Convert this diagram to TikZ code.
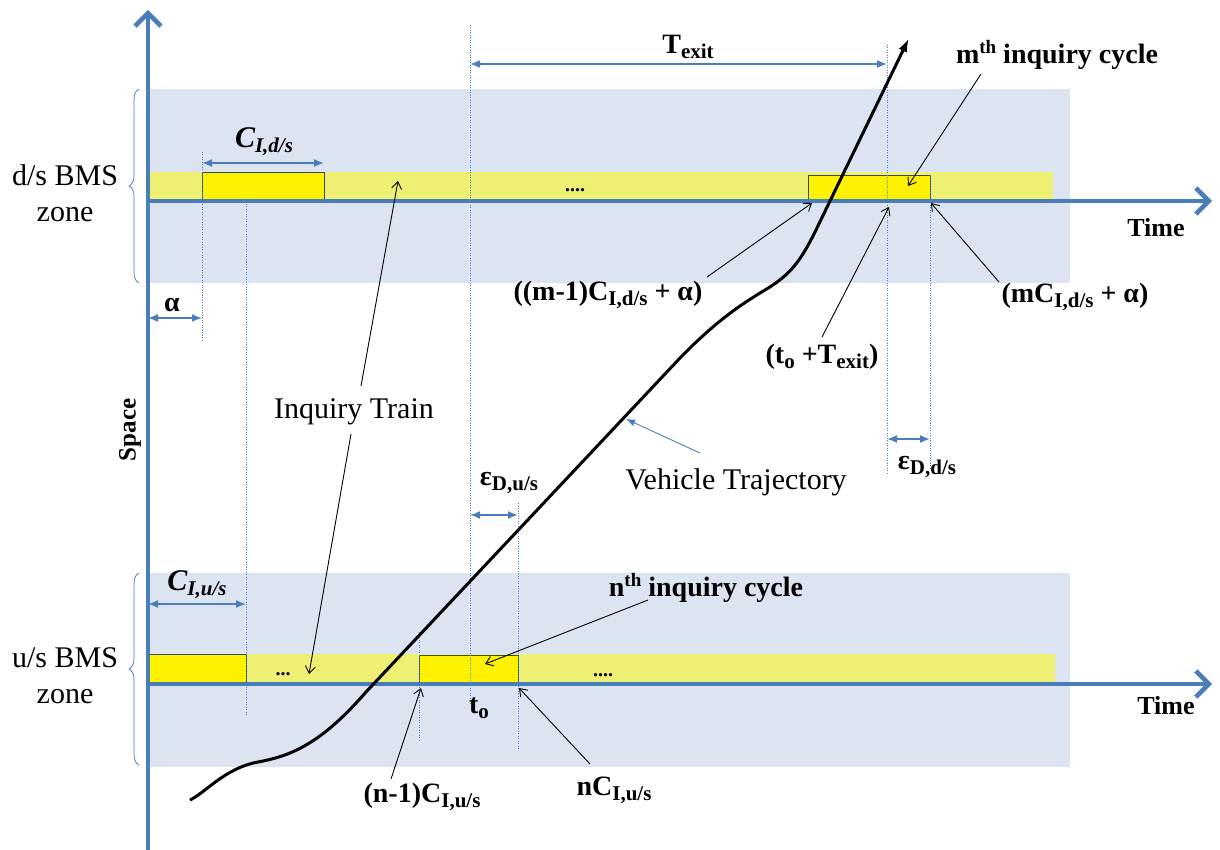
\documentclass[tikz,border=0pt]{standalone}
\usepackage{fontspec}
\setmainfont{Liberation Serif}
\usetikzlibrary{arrows.meta,decorations.pathreplacing}
\definecolor{axblue}{HTML}{4A7EBB}
\definecolor{zoneblue}{HTML}{DBE4F0}
\definecolor{bandyel}{HTML}{EEF074}
\definecolor{boxedge}{HTML}{34495E}
\newcommand\lsub[1]{\raisebox{-5pt}{\fontsize{21}{21}\selectfont #1}}
\newcommand\lsup[1]{\raisebox{10pt}{\fontsize{19}{19}\selectfont #1}}
\begin{document}
\begin{tikzpicture}[x=1pt,y=-1pt,
  zone/.style={fill=zoneblue,draw=none},
  band/.style={fill=bandyel,draw=none},
  cyclebox/.style={fill=yellow,draw=boxedge,line width=0.9pt},
  guide/.style={draw=axblue,line width=0.8pt,dash pattern=on 1pt off 1.5pt},
  axisline/.style={draw=axblue,line width=4.5pt,-{Straight Barb[length=13pt,width=26pt]}},
  dimarrow/.style={draw=axblue,line width=1.6pt,{Latex[length=10pt,width=8pt]}-{Latex[length=10pt,width=8pt]}},
  pointer/.style={draw=black,line width=0.9pt,-{Straight Barb[length=7pt,width=10pt]}},
  bluepointer/.style={draw=axblue,line width=0.9pt,-{Latex[length=9pt,width=7pt]}},
  traj/.style={draw=black,line width=3pt,-{Latex[length=14pt,width=9pt]}},
  zbrace/.style={draw=axblue,line width=0.8pt,decorate,decoration={brace,amplitude=10pt}},
  rlbl/.style={inner sep=0pt,font=\fontsize{30}{36}\selectfont},
  blbl/.style={inner sep=0pt,font=\fontsize{28}{32}\selectfont\bfseries},
  dots/.style={inner sep=0pt,font=\fontsize{20}{24}\selectfont\bfseries}
]
\useasboundingbox (0,0) rectangle (1220,850);
% zones
\fill[zone] (148,89) rectangle (1070,283);
\fill[zone] (148,573) rectangle (1070,767);
\fill[band] (148,172) rectangle (1053,200);
\fill[band] (148,654) rectangle (1055,682);
% cycle boxes
\draw[cyclebox] (202,172) rectangle (324,200);
\draw[cyclebox] (808,175) rectangle (930,200);
\draw[cyclebox] (148,654) rectangle (246,682);
\draw[cyclebox] (419,655) rectangle (518,682);
% guide lines
\coordinate (gA1) at (202,152); \coordinate (gA2) at (202,342);
\coordinate (gB1) at (246,204); \coordinate (gB2) at (246,716);
\coordinate (gT1) at (470,25);  \coordinate (gT2) at (470,705);
\coordinate (gN1) at (419,632); \coordinate (gN2) at (419,740);
\coordinate (gM1) at (518,503); \coordinate (gM2) at (518,750);
\coordinate (gE1) at (887,45);  \coordinate (gE2) at (887,475);
\coordinate (gF1) at (930,175); \coordinate (gF2) at (930,470);
\draw[guide] (gA1) -- (gA2);
\draw[guide] (gB1) -- (gB2);
\draw[guide] (gT1) -- (gT2);
\draw[guide] (gN1) -- (gN2);
\draw[guide] (gM1) -- (gM2);
\draw[guide] (gE1) -- (gE2);
\draw[guide] (gF1) -- (gF2);
% axes
\coordinate (o1) at (148,850); \coordinate (o2) at (148,10);
\coordinate (t1) at (146,201); \coordinate (t2) at (1212,201);
\coordinate (u1) at (146,684); \coordinate (u2) at (1212,684);
\draw[axisline] (o1) -- (o2);
\draw[axisline] (t1) -- (t2);
\draw[axisline] (u1) -- (u2);
% braces
\coordinate (bd1) at (139,283); \coordinate (bd2) at (139,89);
\coordinate (bu1) at (139,765); \coordinate (bu2) at (139,573);
\draw[zbrace] (bd1) -- (bd2);
\draw[zbrace] (bu1) -- (bu2);
% trajectory
\coordinate (v0) at (190,800);
\coordinate (v1) at (258,762);
\coordinate (v2) at (366,692);
\coordinate (v3) at (680,358);
\coordinate (v4) at (765,290);
\coordinate (v5) at (815,232);
\coordinate (v6) at (909,38);
\draw[traj] (v0) .. controls (205,793) and (225,768) .. (v1)
  .. controls (290,756) and (320,745) .. (v2)
  -- (v3)
  .. controls (715,322) and (740,305) .. (v4)
  .. controls (790,275) and (800,262) .. (v5)
  -- (v6);
% dimension arrows
\coordinate (dC1) at (202,163); \coordinate (dC2) at (324,163);
\coordinate (da1) at (148,318); \coordinate (da2) at (202,318);
\coordinate (dT1) at (470,64);  \coordinate (dT2) at (887,64);
\coordinate (dU1) at (148,604); \coordinate (dU2) at (246,604);
\coordinate (de1) at (470,515); \coordinate (de2) at (518,515);
\coordinate (df1) at (887,439); \coordinate (df2) at (930,439);
\draw[dimarrow] (dC1) -- (dC2);
\draw[dimarrow] (da1) -- (da2);
\draw[dimarrow] (dT1) -- (dT2);
\draw[dimarrow] (dU1) -- (dU2);
\draw[dimarrow] (de1) -- (de2);
\draw[dimarrow] (df1) -- (df2);
% labels
\node[rlbl,align=center] (dslbl) at (65,193) {d/s BMS\\zone};
\node[rlbl,align=center] (uslbl) at (65,676) {u/s BMS\\zone};
\node[rlbl,rotate=90,font=\fontsize{25}{30}\selectfont\bfseries] (space) at (130,430) {Space};
\node[blbl,font=\fontsize{26}{30}\selectfont\bfseries] (time1) at (1156,228) {Time};
\node[blbl,font=\fontsize{26}{30}\selectfont\bfseries] (time2) at (1166,706) {Time};
\node[blbl,font=\fontsize{30}{34}\selectfont\bfseries\itshape] (cid) at (264,142) {C\lsub{I,d/s}};
\node[blbl,font=\fontsize{30}{34}\selectfont\bfseries\itshape] (ciu) at (197,585) {C\lsub{I,u/s}};
\node[blbl] (alpha) at (172,305) {α};
\node[blbl] (texit) at (688,47) {T\lsub{exit}};
\node[blbl] (mth) at (1057,55) {m\lsup{th} inquiry cycle};
\node[blbl] (nth) at (706,588) {n\lsup{th} inquiry cycle};
\node[blbl] (mm1) at (608,295) {((m-1)C\lsub{I,d/s} + α)};
\node[blbl] (mc) at (1075,297) {(mC\lsub{I,d/s} + α)};
\node[blbl] (tot) at (822,357) {(t\lsub{o} +T\lsub{exit})};
\node[blbl] (epsu) at (509,483) {ε\lsub{D,u/s}};
\node[blbl] (epsd) at (927,467) {ε\lsub{D,d/s}};
\node[blbl] (to) at (479,708) {t\lsub{o}};
\node[blbl] (nm1) at (422,797) {(n-1)C\lsub{I,u/s}};
\node[blbl] (nc) at (614,790) {nC\lsub{I,u/s}};
\node[rlbl] (itrain) at (354,412) {Inquiry Train};
\node[rlbl] (vtraj) at (736,482) {Vehicle Trajectory};
\node[dots] (dots1) at (575,190) {....};
\node[dots] (dots2) at (283,674) {...};
\node[dots] (dots3) at (603,675) {....};
% pointers
\coordinate (pIa) at (361,386); \coordinate (pIat) at (398,181);
\coordinate (pIb) at (351,434); \coordinate (pIbt) at (309,674);
\coordinate (pM) at (981,74);   \coordinate (pMt) at (908,186);
\coordinate (pMm) at (707,277); \coordinate (pMmt) at (812,203);
\coordinate (pMc) at (999,282); \coordinate (pMct) at (931,203);
\coordinate (pTo) at (822,337); \coordinate (pTot) at (889,207);
\coordinate (pV) at (700,453);  \coordinate (pVt) at (626,419);
\coordinate (pN) at (648,600);  \coordinate (pNt) at (485,664);
\coordinate (pNm) at (391,779); \coordinate (pNmt) at (421,688);
\coordinate (pNc) at (590,764); \coordinate (pNct) at (519,688);
\draw[pointer] (pIa) -- (pIat);
\draw[pointer] (pIb) -- (pIbt);
\draw[pointer] (pM) -- (pMt);
\draw[pointer] (pMm) -- (pMmt);
\draw[pointer] (pMc) -- (pMct);
\draw[pointer] (pTo) -- (pTot);
\draw[bluepointer] (pV) -- (pVt);
\draw[pointer] (pN) -- (pNt);
\draw[pointer] (pNm) -- (pNmt);
\draw[pointer] (pNc) -- (pNct);
\end{tikzpicture}
\end{document}
